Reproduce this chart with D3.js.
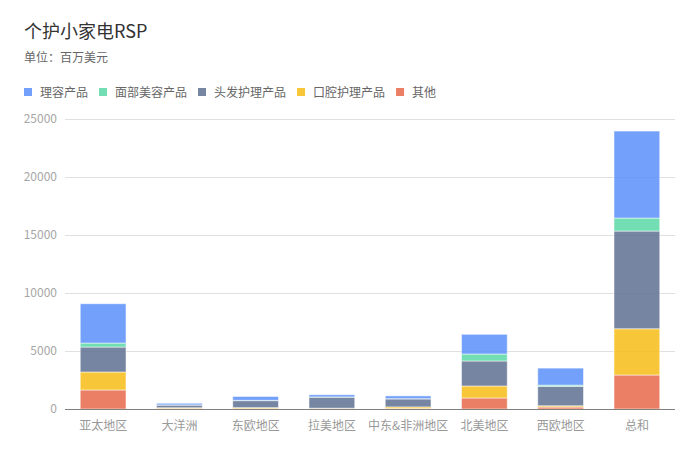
<!DOCTYPE html>
<html><head><meta charset="utf-8">
<script src="https://cdn.jsdelivr.net/npm/d3@7"></script>
<style>
html,body{margin:0;padding:0;background:#fff;}
svg{display:block;font-family:"Noto Sans CJK SC","Noto Sans",sans-serif;}
</style></head>
<body>
<svg id="chart" width="700" height="456"></svg>
<script>
const categories = ["亚太地区","大洋洲","东欧地区","拉美地区","中东&非洲地区","北美地区","西欧地区","总和"];
const seriesNames = ["理容产品","面部美容产品","头发护理产品","口腔护理产品","其他"];
const grooming = [3390, 140, 330, 190, 240, 1700, 1465, 7500];
const facial   = [345, 15, 30, 20, 20, 600, 110, 1120];
const hair     = [2150, 230, 600, 950, 690, 2155, 1670, 8420];
const oral     = [1550, 70, 90, 30, 140, 1035, 110, 3990];
const other    = [1640, 40, 30, 40, 40, 950, 170, 2930];
const yTicks = [0, 5000, 10000, 15000, 20000, 25000];
const colors = ["#5B8FF9","#5AD8A6","#5D7092","#F6BD16","#E8684A"];

const svg = d3.select("#chart");
const margin = {left:65, right:25, top:119, bottom:47};
const W = 700, H = 456;

svg.append("text").attr("x",24).attr("y",38).attr("font-size",18).attr("fill","#333").text("个护小家电RSP");
svg.append("text").attr("x",24).attr("y",62).attr("font-size",12).attr("fill","#666").text("单位：百万美元");

// legend
const seriesData = [grooming, facial, hair, oral, other];
let lx = 24;
seriesNames.forEach((n,i)=>{
  svg.append("rect").attr("x",lx).attr("y",88).attr("width",8).attr("height",8).attr("fill",colors[i]).attr("fill-opacity",0.85);
  const t = svg.append("text").attr("x",lx+16).attr("y",96.5).attr("font-size",12).attr("fill","#666").text(n);
  const w = t.node().getComputedTextLength();
  lx += 16 + w + 11;
});

const x = d3.scaleBand().domain(categories).range([margin.left, W-margin.right]).paddingInner(0.4).paddingOuter(0.2);
const y = d3.scaleLinear().domain([0,25000]).range([H-margin.bottom, margin.top]);

// grid
const yAxis = d3.axisLeft(y).tickValues(yTicks).tickSize(-(W-margin.right-margin.left)).tickPadding(8).tickFormat(d3.format("d"));
const gy = svg.append("g").attr("transform",`translate(${margin.left},0)`).call(yAxis);
gy.select(".domain").remove();
gy.selectAll(".tick line").attr("stroke","#e0e0e0");
gy.selectAll(".tick text").attr("fill","#a6a6a6").attr("font-size",12).attr("font-family","'Noto Sans CJK SC',sans-serif");

// stacked data
const table = categories.map((c,i)=>({cat:c, s0:grooming[i], s1:facial[i], s2:hair[i], s3:oral[i], s4:other[i]}));
const stack = d3.stack().keys(["s4","s3","s2","s1","s0"]);
const stacked = stack(table);
const colorByKey = {s0:colors[0], s1:colors[1], s2:colors[2], s3:colors[3], s4:colors[4]};
stacked.forEach(layer=>{
  svg.append("g").selectAll("rect").data(layer).join("rect")
    .attr("x", d=>x(d.data.cat))
    .attr("width", x.bandwidth())
    .attr("y", d=>y(d[1]))
    .attr("height", d=>Math.max(0, y(d[0])-y(d[1])))
    .attr("fill", colorByKey[layer.key])
    .attr("fill-opacity",0.85)
    .attr("stroke","#fff").attr("stroke-opacity",0.5).attr("stroke-width",1);
});

// x axis
const xAxis = d3.axisBottom(x).tickSize(0).tickPadding(12);
const gx = svg.append("g").attr("transform",`translate(0,${H-margin.bottom})`).call(xAxis);
gx.select(".domain").attr("stroke","#808080").attr("d",`M${margin.left},0.5H${W-margin.right}`);
gx.selectAll(".tick text").attr("fill","#999").attr("font-size",12).attr("font-family","'Noto Sans CJK SC',sans-serif");
</script>
</body></html>
